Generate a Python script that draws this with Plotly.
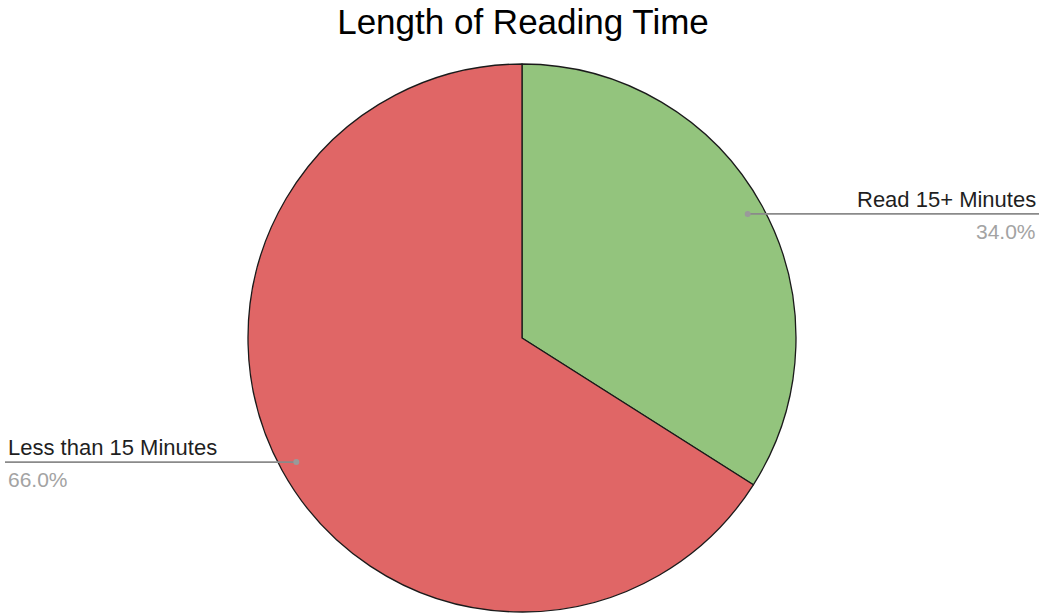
import math
import plotly.graph_objects as go

labels = ["Read 15+ Minutes", "Less than 15 Minutes"]
values = [34.0, 66.0]
colors = ["#93C47D", "#E06666"]

W, H = 1039, 616
cx, cy, r = 522, 338, 274  # pixel center/radius of pie

fig = go.Figure(go.Pie(
    labels=labels, values=values, sort=False, direction="clockwise", rotation=0,
    marker=dict(colors=colors, line=dict(color="#1a1a1a", width=1.3)),
    textinfo="none", hoverinfo="label+percent", showlegend=False,
    domain=dict(x=[(cx - r) / W, (cx + r) / W], y=[(H - cy - r) / H, (H - cy + r) / H]),
))

def px(x):
    return x / W

def py(y):
    return 1 - y / H

FONT = "Liberation Sans, Arial, sans-serif"
total = sum(values)
cum = 0
shapes = []
annotations = []
for lab, v in zip(labels, values):
    mid = (cum + v / 2) / total * 2 * math.pi
    cum += v
    dx = math.sin(mid) * r * 0.94
    dy = -math.cos(mid) * r * 0.94
    x0, y0 = cx + dx, cy + dy
    right = dx > 0
    xend = W if right else 5
    shapes.append(dict(type="line", xref="paper", yref="paper",
                       x0=px(x0), y0=py(y0), x1=px(xend), y1=py(y0),
                       line=dict(color="#8a8a8a", width=1.6)))
    shapes.append(dict(type="circle", xref="paper", yref="paper",
                       x0=px(x0 - 3), y0=py(y0 - 3), x1=px(x0 + 3), y1=py(y0 + 3),
                       fillcolor="#9a9a9a", line=dict(width=0)))
    tx = 1038 if right else 6
    anchor = "right" if right else "left"
    annotations.append(dict(xref="paper", yref="paper", x=px(tx), y=py(y0),
                            text=lab, showarrow=False, xanchor=anchor, yanchor="bottom",
                            font=dict(family=FONT, size=22, color="#1f1f1f")))
    annotations.append(dict(xref="paper", yref="paper", x=px(tx), y=py(y0 + 4),
                            text=f"{v / total * 100:.1f}%", showarrow=False, xanchor=anchor, yanchor="top",
                            font=dict(family=FONT, size=21, color="#a3a3a3")))

fig.update_layout(
    width=W, height=H,
    margin=dict(l=0, r=0, t=0, b=0),
    paper_bgcolor="white", plot_bgcolor="white",
    title=dict(text="Length of Reading Time", x=523 / W, xanchor="center",
               y=py(22), yanchor="middle",
               font=dict(family=FONT, size=35, color="#000000")),
    shapes=shapes, annotations=annotations,
)

fig.write_html("out.html", config={"displayModeBar": False},
               post_script="document.body.style.margin='0';")
